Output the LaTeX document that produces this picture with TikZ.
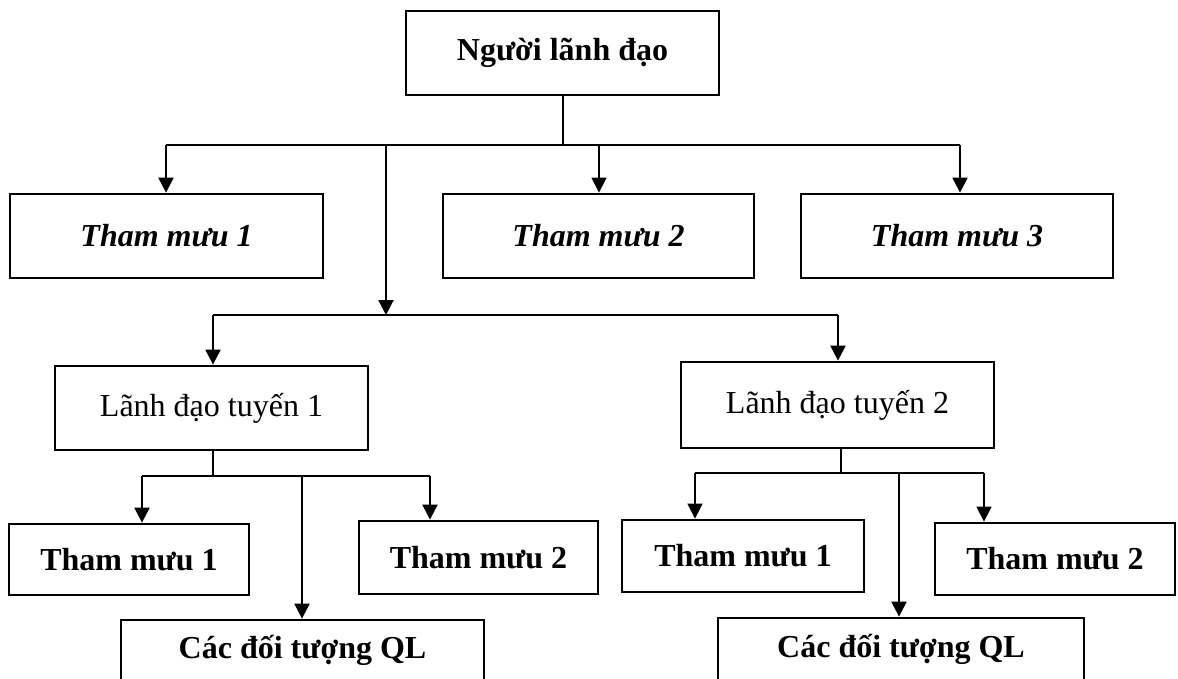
\documentclass[tikz,border=0pt]{standalone}
\usepackage{fontspec}
\setmainfont{Liberation Serif}
\usetikzlibrary{arrows.meta}
\begin{document}
\begin{tikzpicture}[x=1pt,y=-1pt,
  box/.style={draw, line width=2.8pt, inner sep=0pt,
    font=\fontsize{32}{38}\selectfont},
  lead/.style={box, font=\fontsize{32}{38}\selectfont\bfseries},
  staff/.style={box, font=\fontsize{32}{38}\selectfont\bfseries\itshape},
  unit/.style={box, font=\fontsize{32}{38}\selectfont\bfseries},
  link/.style={line width=2.2pt},
  thinlink/.style={line width=1.5pt},
  tip/.style={-{Triangle[width=15pt,length=15pt]}},
  arr/.style={link, tip},
  thinarr/.style={thinlink, tip}
]
\useasboundingbox (0,0) rectangle (1178,679);

% top level
\node[lead, minimum width=313pt, minimum height=84pt] (top) at (562.5,53) {Người lãnh đạo};

% staff of the leader
\node[staff, minimum width=313pt, minimum height=84pt] (s1) at (166.5,236) {Tham mưu 1};
\node[staff, minimum width=311pt, minimum height=84pt] (s2) at (598.5,236) {Tham mưu 2};
\node[staff, minimum width=312pt, minimum height=84pt] (s3) at (957,236) {Tham mưu 3};

% line leaders
\node[box, minimum width=313pt, minimum height=84pt] (l1) at (211.5,408) {Lãnh đạo tuyến 1};
\node[box, minimum width=313pt, minimum height=86pt] (l2) at (837.5,405) {Lãnh đạo tuyến 2};

% branch 1
\node[unit, minimum width=240pt, minimum height=71pt] (a1) at (129,559.5) {Tham mưu 1};
\node[unit, minimum width=239pt, minimum height=73pt] (a2) at (478.5,557.5) {Tham mưu 2};
\node[unit, minimum width=363pt, minimum height=60pt] (a3) at (302.5,650) {Các đối tượng QL};

% branch 2
\node[unit, minimum width=242pt, minimum height=72pt] (b1) at (743,556) {Tham mưu 1};
\node[unit, minimum width=240pt, minimum height=72pt] (b2) at (1055,559) {Tham mưu 2};
\node[unit, minimum width=366pt, minimum height=62pt] (b3) at (901,649) {Các đối tượng QL};

% junction points
\coordinate (j0) at (563,145);
\coordinate (h0l) at (166,145);
\coordinate (h0r) at (960,145);
\coordinate (h0a) at (599,145);
\coordinate (h0d) at (386,145);
\coordinate (m0) at (386,315);
\coordinate (m0l) at (213,315);
\coordinate (m0r) at (838,315);
\coordinate (j1) at (213,476);
\coordinate (h1l) at (142,476);
\coordinate (h1r) at (430,476);
\coordinate (h1m) at (302,476);
\coordinate (j2) at (841,473);
\coordinate (h2l) at (695,473);
\coordinate (h2r) at (984,473);
\coordinate (h2m) at (899,473);

% top level connectors
\draw[link] (top.south -| j0) -- (j0);
\draw[link] (h0l) -- (h0r);
\draw[arr] (h0l) -- (h0l |- s1.north);
\draw[thinarr] (h0a) -- (h0a |- s2.north);
\draw[arr] (h0r) -- (h0r |- s3.north);
\draw[arr] (h0d) -- (m0);

% middle level connectors
\draw[link] (m0l) -- (m0r);
\draw[arr] (m0l) -- (m0l |- l1.north);
\draw[arr] (m0r) -- (m0r |- l2.north);

% branch 1 connectors
\draw[link] (l1.south -| j1) -- (j1);
\draw[link] (h1l) -- (h1r);
\draw[arr] (h1l) -- (h1l |- a1.north);
\draw[arr] (h1r) -- (h1r |- a2.north);
\draw[arr] (h1m) -- (h1m |- a3.north);

% branch 2 connectors
\draw[link] (l2.south -| j2) -- (j2);
\draw[link] (h2l) -- (h2r);
\draw[thinarr] (h2l) -- (h2l |- b1.north);
\draw[thinarr] (h2r) -- (h2r |- b2.north);
\draw[arr] (h2m) -- (h2m |- b3.north);
\end{tikzpicture}
\end{document}
